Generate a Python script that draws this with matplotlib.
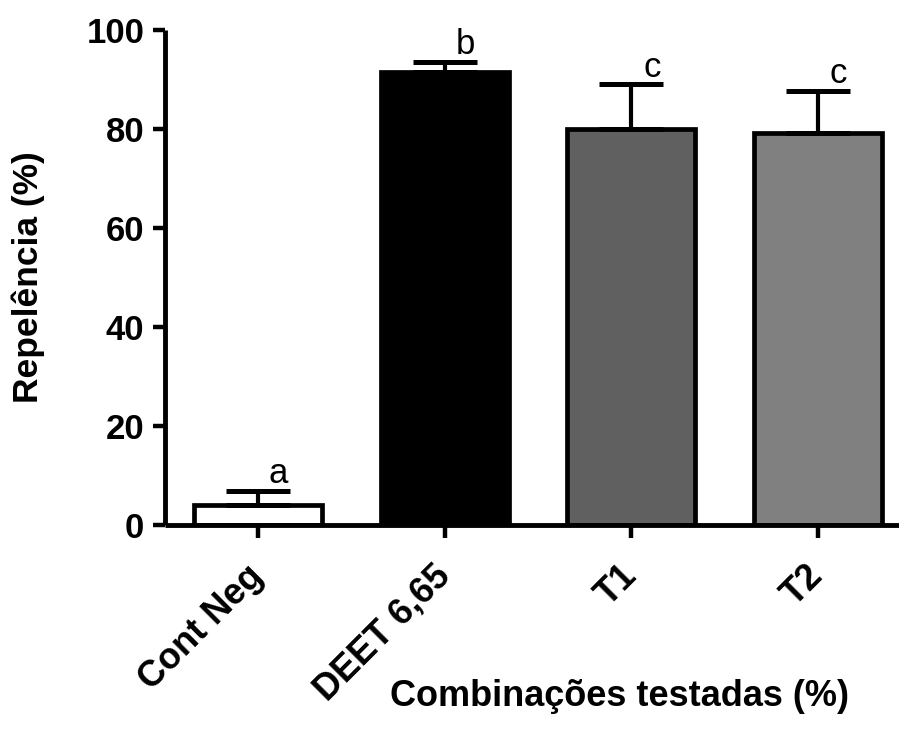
import matplotlib
matplotlib.use("Agg")
import matplotlib.pyplot as plt
import numpy as np

categories = ["Cont Neg", "DEET 6,65", "T1", "T2"]
means = [4.0, 91.5, 79.9, 79.2]
sem = [2.9, 2.1, 9.1, 8.4]
letters = ["a", "b", "c", "c"]
colors = ["#ffffff", "#000000", "#606060", "#808080"]
yticks = [0, 20, 40, 60, 80, 100]

plt.rcParams['font.family'] = ['Liberation Sans', 'DejaVu Sans']

fig = plt.figure(figsize=(8.99, 7.33), dpi=100)
ax = fig.add_axes([165/899, 1 - 525/733, 1 - 165/899, (525 - 30)/733])

x = np.arange(len(categories))
ax.bar(x, means, width=0.685, color=colors, edgecolor="black", linewidth=3.4, zorder=2)
ax.errorbar(x, means, yerr=[np.zeros(len(sem)), sem], fmt="none", ecolor="black",
            elinewidth=3.0, capsize=23, capthick=3.6, zorder=3)
for xi, m, s, l in zip(x, means, sem, letters):
    ax.text(xi + 0.11, m + s + 1.6, l, ha="center", va="baseline", fontsize=25, zorder=4)

ax.set_xlim(-0.498, 3.434)
ax.set_ylim(0, 100)
ax.set_yticks(yticks)
ax.set_xticks(x)
ax.set_xticklabels(categories, rotation=45, ha="right", va="center",
                   rotation_mode="anchor", fontsize=26, fontweight="bold")
for lab in ax.get_yticklabels():
    lab.set_fontsize(25)
    lab.set_fontweight("bold")

for side in ["top", "right"]:
    ax.spines[side].set_visible(False)
for side in ["left", "bottom"]:
    ax.spines[side].set_linewidth(3.5)
    ax.spines[side].set_capstyle("butt")
ax.tick_params(axis="both", width=3.2, length=9)
ax.tick_params(axis="x", pad=24)
ax.tick_params(axis="y", pad=6)

ax.set_ylabel("Repelência (%)", fontsize=25.5, fontweight="bold")
ax.yaxis.set_label_coords((28 - 165) / (899 - 165), 0.5)
ax.yaxis.label.set_va("center")
ax.set_xlabel("Combinações testadas (%)", fontsize=26, fontweight="bold")
ax.xaxis.set_label_coords((619 - 165) / (899 - 165), -(697 - 525) / 495)
ax.xaxis.label.set_va("center")

fig.savefig("out.png", dpi=100)
